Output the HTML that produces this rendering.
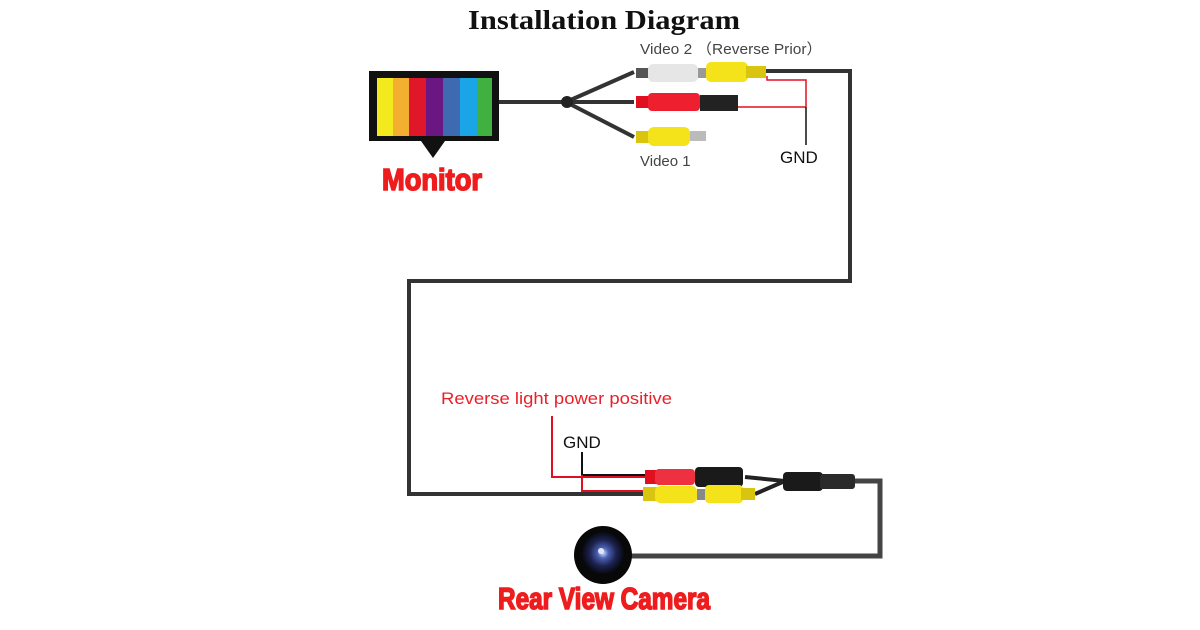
<!DOCTYPE html>
<html><head><meta charset="utf-8"><style>
html,body{margin:0;padding:0;background:#fff;width:1200px;height:630px;overflow:hidden}
svg{display:block}
</style></head><body>
<svg width="1200" height="630" viewBox="0 0 1200 630" xmlns="http://www.w3.org/2000/svg">
<defs>
<radialGradient id="lens" cx="50%" cy="50%" r="50%">
<stop offset="0" stop-color="#cfe0ff"/><stop offset="0.25" stop-color="#4a5fb0"/><stop offset="0.6" stop-color="#1d2350"/><stop offset="1" stop-color="#050608"/>
</radialGradient>
</defs>
<text x="468" y="29" font-family="Liberation Serif, serif" font-weight="bold" font-size="27" textLength="272" lengthAdjust="spacingAndGlyphs" fill="#111">Installation Diagram</text>

<!-- Monitor -->
<rect x="369" y="71" width="130" height="70" fill="#111"/>
<g>
<rect x="377" y="78" width="16" height="58" fill="#f2ea1c"/>
<rect x="393" y="78" width="16" height="58" fill="#f3b030"/>
<rect x="409" y="78" width="17" height="58" fill="#e0172a"/>
<rect x="426" y="78" width="17" height="58" fill="#6a1784"/>
<rect x="443" y="78" width="17" height="58" fill="#3e6ab1"/>
<rect x="460" y="78" width="17" height="58" fill="#1aa6e6"/>
<rect x="477" y="78" width="15" height="58" fill="#40b040"/>
</g>
<polygon points="421,141 445,141 433,158" fill="#111"/>
<text x="432" y="190" text-anchor="middle" font-family="Liberation Sans, sans-serif" font-weight="bold" font-size="31" fill="#ee1c1c" stroke="#ee1c1c" stroke-width="1.6" textLength="100" lengthAdjust="spacingAndGlyphs">Monitor</text>

<!-- top cables -->
<g stroke="#333" stroke-width="4" fill="none">
<path d="M499 102 L566 102"/>
<path d="M566 102 L634 72"/>
<path d="M566 102 L634 102"/>
<path d="M566 102 L634 137"/>
<path d="M766 71 L850 71 L850 281 L409 281 L409 494 L645 494"/>
</g>
<circle cx="567" cy="102" r="6" fill="#222"/>
<!-- top connectors -->
<rect x="636" y="68" width="14" height="10" fill="#555"/>
<rect x="648" y="64" width="50" height="18" rx="5" fill="#e6e6e6"/>
<rect x="698" y="68" width="8" height="10" fill="#999"/>
<rect x="706" y="62" width="42" height="20" rx="5" fill="#f4e21a"/>
<rect x="746" y="66" width="20" height="12" fill="#d9c510"/>
<rect x="636" y="96" width="14" height="12" fill="#e01020"/>
<rect x="648" y="93" width="52" height="18" rx="4" fill="#ee2030"/>
<rect x="700" y="95" width="38" height="16" fill="#222"/>
<rect x="636" y="131" width="14" height="12" fill="#d9c510"/>
<rect x="648" y="127" width="42" height="19" rx="6" fill="#f4e21a"/>
<rect x="690" y="131" width="16" height="10" fill="#bbb"/>
<g stroke="#e01020" stroke-width="1.5" fill="none">
<path d="M767 76 L767 80 L806 80 L806 107"/>
<path d="M738 107 L806 107"/>
</g>
<path d="M806 107 L806 145" stroke="#111" stroke-width="1.5"/>
<text x="640" y="54" font-family="Liberation Sans, sans-serif" font-size="15" fill="#444" textLength="182" lengthAdjust="spacingAndGlyphs">Video 2 （Reverse Prior）</text>
<text x="640" y="166" font-family="Liberation Sans, sans-serif" font-size="15" fill="#444">Video 1</text>
<text x="780" y="163" font-family="Liberation Sans, sans-serif" font-size="17" fill="#111">GND</text>

<!-- bottom -->
<text x="441" y="404" font-family="Liberation Sans, sans-serif" font-size="17" fill="#e8202a" textLength="231" lengthAdjust="spacingAndGlyphs">Reverse light power positive</text>
<text x="563" y="448" font-family="Liberation Sans, sans-serif" font-size="17" fill="#111">GND</text>
<path d="M552 416 L552 477 L645 477" stroke="#e01020" stroke-width="2" fill="none"/>
<path d="M582 452 L582 475" stroke="#111" stroke-width="2" fill="none"/>
<path d="M582 475 L645 475" stroke="#111" stroke-width="2" fill="none"/>
<path d="M582 475 L582 491 L645 491" stroke="#e01020" stroke-width="2" fill="none"/>
<!-- converging cables -->
<g stroke="#222" stroke-width="4" fill="none">
<path d="M745 477 L785 481"/>
<path d="M755 494 L785 481"/>
</g>
<path d="M855 481 L880 481 L880 556 L630 556" stroke="#444" stroke-width="5" fill="none"/>
<rect x="645" y="470" width="12" height="14" fill="#e01020"/>
<rect x="655" y="469" width="40" height="16" rx="4" fill="#ee3040"/>
<rect x="695" y="467" width="48" height="20" rx="4" fill="#1a1a1a"/>
<rect x="643" y="487" width="14" height="14" fill="#d9c510"/>
<rect x="655" y="486" width="42" height="17" rx="5" fill="#f4e21a"/>
<rect x="697" y="489" width="8" height="11" fill="#888"/>
<rect x="705" y="485" width="38" height="18" rx="4" fill="#f4e21a"/>
<rect x="741" y="488" width="14" height="12" fill="#d9c510"/>
<rect x="783" y="472" width="40" height="19" rx="4" fill="#1a1a1a"/>
<rect x="820" y="474" width="35" height="15" rx="3" fill="#2a2a2a"/>
<!-- camera -->
<circle cx="603" cy="555" r="29" fill="#080808"/>
<circle cx="603" cy="553" r="22" fill="url(#lens)"/>
<circle cx="601" cy="551" r="3" fill="#e0e8ff"/>
<text x="604" y="609" text-anchor="middle" font-family="Liberation Sans, sans-serif" font-weight="bold" font-size="31" fill="#ee1c1c" stroke="#ee1c1c" stroke-width="1.6" textLength="212" lengthAdjust="spacingAndGlyphs">Rear View Camera</text>
</svg>
</body></html>
